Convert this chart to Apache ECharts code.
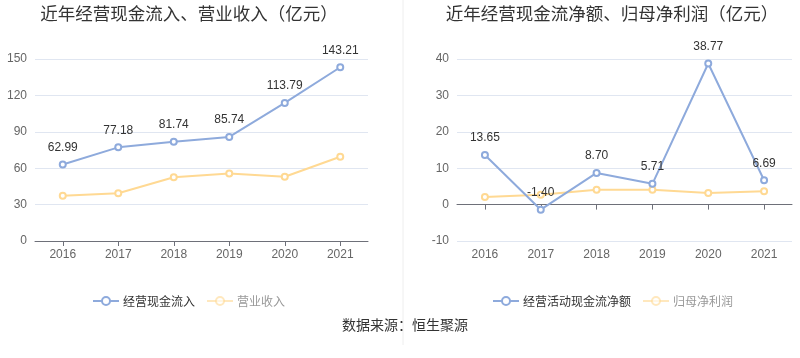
<!DOCTYPE html>
<html><head><meta charset="utf-8">
<script src="https://cdn.jsdelivr.net/npm/echarts@6/dist/echarts.min.js"></script>
<style>html,body{margin:0;padding:0;background:#fff}#c{width:800px;height:358px}</style>
</head><body><div id="c"></div>
<script>
const years = ['2016','2017','2018','2019','2020','2021'];
const cashInflow = [62.99, 77.18, 81.74, 85.74, 113.79, 143.21];
const revenue = [37.2, 39.4, 52.6, 55.7, 52.9, 69.4];
const netCashFlow = [13.65, -1.40, 8.70, 5.71, 38.77, 6.69];
const netProfit = [2.1, 2.7, 4.1, 4.1, 3.2, 3.7];
const leftTicks = [0, 30, 60, 90, 120, 150];
const rightTicks = [-10, 0, 10, 20, 30, 40];

const blue = '#8eaadc';
const yellow = '#ffd993';
const cjk = '"Noto Sans CJK SC", sans-serif';
const num = '"Liberation Sans", Arial, sans-serif';
const chart = echarts.init(document.getElementById('c'));
function lineSeries(name, data, color, xi, label) {
  return {
    name, type: 'line', data, xAxisIndex: xi, yAxisIndex: xi,
    symbol: 'emptyCircle', symbolSize: 6,
    lineStyle: {color, width: 2}, itemStyle: {color, borderWidth: 2},
    label: {show: label, position: 'top', color: '#333', fontSize: 12, fontFamily: num,
      formatter: p => p.value.toFixed(2), distance: 7},
    z: label ? 3 : 2
  };
}
const yAxisCommon = {
  type: 'value',
  axisLine: {show: false}, axisTick: {show: false},
  axisLabel: {color: '#666', fontSize: 12, fontFamily: num},
  splitLine: {lineStyle: {color: '#e0e6f1'}}
};
const xAxisCommon = {
  type: 'category', data: years, boundaryGap: true,
  axisLine: {lineStyle: {color: '#6e7079'}},
  axisTick: {show: true, alignWithLabel: true, lineStyle: {color: '#6e7079'}},
  axisLabel: {color: '#666', fontSize: 12, fontFamily: num, margin: 8}
};
function legend(names, left) {
  return {
    data: [
      {name: names[0], textStyle: {color: '#333'}},
      {name: names[1], textStyle: {color: '#999'}, itemStyle: {opacity: 0.6}, lineStyle: {opacity: 0.6}}
    ],
    left, top: 290, width: 380, itemGap: 11, itemWidth: 26, itemHeight: 10,
    textStyle: {fontSize: 12, fontFamily: cjk, padding: [0, 0, 0, -1]}
  };
}
chart.setOption({
  animation: false,
  textStyle: {fontFamily: cjk},
  title: [
    {text: '近年经营现金流入、营业收入（亿元）', left: 184, top: 0, textAlign: 'center',
      textStyle: {fontSize: 17.5, fontWeight: 'normal', color: '#333', fontFamily: cjk}},
    {text: '近年经营现金流净额、归母净利润（亿元）', left: 607, top: 0, textAlign: 'center',
      textStyle: {fontSize: 17.5, fontWeight: 'normal', color: '#333', fontFamily: cjk}},
    {text: '数据来源：恒生聚源', left: 400, top: 313, textAlign: 'center',
      textStyle: {fontSize: 14, fontWeight: 'normal', color: '#333', fontFamily: cjk}}
  ],
  legend: [
    legend(['经营现金流入', '营业收入'], 87),
    legend(['经营活动现金流净额', '归母净利润'], 487)
  ],
  grid: [
    {left: 35, right: 432, top: 59, bottom: 117},
    {left: 457, right: 8, top: 59, bottom: 117}
  ],
  xAxis: [Object.assign({gridIndex: 0}, xAxisCommon), Object.assign({gridIndex: 1}, xAxisCommon)],
  yAxis: [
    Object.assign({gridIndex: 0, min: leftTicks[0], max: leftTicks[leftTicks.length-1], interval: 30}, yAxisCommon),
    Object.assign({gridIndex: 1, min: rightTicks[0], max: rightTicks[rightTicks.length-1], interval: 10}, yAxisCommon)
  ],
  graphic: [{type: 'line', shape: {x1: 403, y1: 0, x2: 403, y2: 345},
    style: {stroke: '#eeeeee', lineWidth: 1}}],
  series: [
    lineSeries('经营现金流入', cashInflow, blue, 0, true),
    lineSeries('营业收入', revenue, yellow, 0, false),
    lineSeries('经营活动现金流净额', netCashFlow, blue, 1, true),
    lineSeries('归母净利润', netProfit, yellow, 1, false)
  ]
});
</script></body></html>
